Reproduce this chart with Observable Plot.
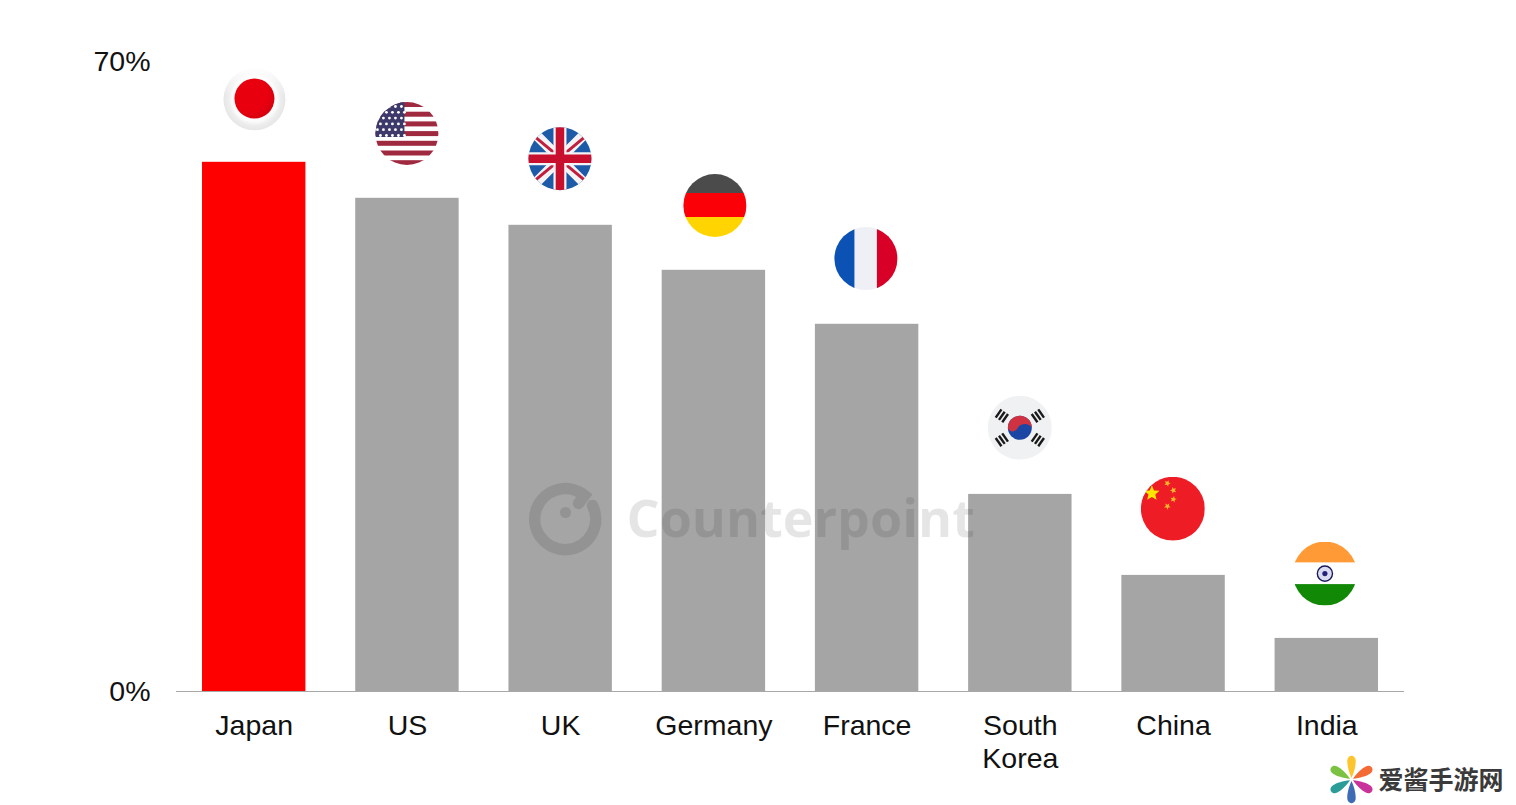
<!DOCTYPE html>
<html><head><meta charset="utf-8">
<script src="https://cdn.jsdelivr.net/npm/d3@7"></script>
<script src="https://cdn.jsdelivr.net/npm/@observablehq/plot@0.6"></script>
<style>html,body{margin:0;padding:0;background:#fff;overflow:hidden}svg{display:block}</style>
</head><body><div id="chart"></div>
<script>
const countries = ["Japan","US","UK","Germany","France","South\nKorea","China","India"];
const values = [58.8,54.8,51.8,46.8,40.8,21.9,12.9,5.9];
const flagLevels = [65.8,62,59.2,54,48.1,29.3,20.3,13.1];
const yTicks = [0,70];
const watermark = "Counterpoint";
const siteMark = "爱酱手游网";

const star=(cx,cy,r,rot=0)=>{let p=[];for(let i=0;i<10;i++){const a=-Math.PI/2+rot+i*Math.PI/5,q=i%2?r*.45:r;p.push((cx+q*Math.cos(a)).toFixed(2)+","+(cy+q*Math.sin(a)).toFixed(2));}return `<polygon points="${p.join(" ")}"`;};
const wrap=(inner,r=31.5)=>`<svg xmlns="http://www.w3.org/2000/svg" width="64" height="64" viewBox="-32 -32 64 64"><defs><clipPath id="c"><circle r="${r}"/></clipPath></defs><g clip-path="url(#c)">${inner}</g></svg>`;
function usFlag(){let s=`<rect x="-32" y="-32" width="64" height="64" fill="#fff"/>`;
  for(let i=0;i<7;i++) s+=`<rect x="-32" y="${-31.5+i*9.7}" width="64" height="5" fill="#9f2a40"/>`;
  s+=`<rect x="-32" y="-32" width="29.5" height="35.5" fill="#3d3a6b"/>`;
  for(let r=0;r<6;r++)for(let c=0;c<5;c++) s+=`<circle cx="${-29.5+c*6+(r%2?3:0)}" cy="${-27+r*5.8}" r="1.4" fill="#fff"/>`;
  return wrap(s);}
function ukFlag(){return wrap(`<rect x="-32" y="-32" width="64" height="64" fill="#1d5aa8"/>
<path d="M-32-32L32 32M32-32L-32 32" stroke="#f4f4f6" stroke-width="10"/>
<path d="M-30-26L-6-6M6 6L30 26M30-26L6-6M-6 6L-30 26" stroke="#c21f3e" stroke-width="3"/>
<path d="M0-32V32M-32 0H32" stroke="#f4f4f6" stroke-width="13"/>
<path d="M0-32V32M-32 0H32" stroke="#c8102e" stroke-width="8.5"/>`);}
function jpFlag(){return `<svg xmlns="http://www.w3.org/2000/svg" width="64" height="64" viewBox="-32 -32 64 64"><defs>
<radialGradient id="h"><stop offset="0.72" stop-color="#fbfbfb"/><stop offset="0.84" stop-color="#ededed"/><stop offset="1" stop-color="#e6e6e6"/></radialGradient>
<linearGradient id="f" x1="0" y1="0" x2="0" y2="1"><stop offset="0" stop-color="#fff"/><stop offset="0.45" stop-color="#fff" stop-opacity="0"/></linearGradient>
<radialGradient id="d" cx="0.4" cy="0.4" r="0.7"><stop offset="0.6" stop-color="#e8000f"/><stop offset="1" stop-color="#d0000f"/></radialGradient></defs>
<circle r="31" fill="url(#h)"/><circle r="31.5" fill="url(#f)"/><circle cx="0" cy="-0.7" r="20" fill="url(#d)"/></svg>`;}
function deFlag(){return wrap(`<rect x="-32" y="-32" width="64" height="19.5" fill="#4b4b4b"/><rect x="-32" y="-12.5" width="64" height="24" fill="#fb0006"/><rect x="-32" y="11.5" width="64" height="21" fill="#ffd400"/>`);}
function frFlag(){return wrap(`<rect x="-32" y="-32" width="64" height="64" fill="#eef0f5"/><rect x="-32" y="-32" width="20.5" height="64" fill="#0b52b4"/><rect x="11" y="-32" width="21" height="64" fill="#d80027"/>`);}
function krFlag(){const tri=(x,y,a)=>`<g transform="translate(${x} ${y}) rotate(${a})"><rect x="-5" y="-5.2" width="10" height="2.4"/><rect x="-5" y="-1.2" width="10" height="2.4"/><rect x="-5" y="2.8" width="10" height="2.4"/></g>`;
  return wrap(`<rect x="-32" y="-32" width="64" height="64" fill="#f0f1f2"/>
<g fill="#1a1a1a">${tri(-18,-12,-55)}${tri(18,-12,55)}${tri(-18,12,55)}${tri(18,12,-55)}</g>
<circle r="12" fill="#1c46a3"/><path d="M-12 0A12 12 0 0 1 12 0C10 5 5 5 2 0S-9-5-12 0Z" fill="#cf3241" transform="scale(-1 1)"/>`,32);}
function cnFlag(){return wrap(`<rect x="-32" y="-32" width="64" height="64" fill="#ee1c25"/>
${star(-21,-15.5,8)} fill="#ffe600"/>${star(-5.5,-25.5,3.4,.4)} fill="#f9b52c"/>${star(.5,-18.5,3.4,.9)} fill="#f9b52c"/>${star(.5,-9.5,3.4,.2)} fill="#f9b52c"/>${star(-5.5,-2.5,3.4,.6)} fill="#f9b52c"/>`,32);}
function inFlag(){return wrap(`<rect x="-32" y="-32" width="64" height="21" fill="#ff9a36"/><rect x="-32" y="-11" width="64" height="21.5" fill="#fff"/><rect x="-32" y="10.5" width="64" height="22" fill="#128807"/>
<circle r="7.6" fill="#dcdcf0" stroke="#1a1a5e" stroke-width="1.4"/><circle r="2.6" fill="#23237a"/>`,32);}
const uri=s=>"data:image/svg+xml;charset=utf-8,"+encodeURIComponent(s);
const flagArt=[jpFlag(),usFlag(),ukFlag(),deFlag(),frFlag(),krFlag(),cnFlag(),inFlag()].map(uri);
const flagNudge=[0.25,-0.5,-0.7,1,-1.2,-0.5,-0.7,-1.9];

const logoArt=uri(`<svg xmlns="http://www.w3.org/2000/svg" width="92" height="92" viewBox="-46 -46 92 92" fill="none" stroke="#000">
<path d="M12-17L18-25A30.500 30.500 0 1 0 26-15" stroke-width="11.500" stroke-linecap="round"/><circle cx="-1" cy="-8" r="5.5" fill="#000" stroke="none"/></svg>`);
const pinColors=["#fcc52e","#f46a35","#c8329a","#3d6cb5","#2a9d98","#7cc242"];
const pinArt=uri(`<svg xmlns="http://www.w3.org/2000/svg" width="52" height="52" viewBox="-26 -26 52 52">${pinColors.map((c,i)=>`<path d="M0-1.5C-3-8-4.2-14-4-18A4 4.600 0 0 1 4-18C4.200-14 3-8 0-1.500Z" transform="rotate(${i*60}) scale(1.05)" fill="${c}"/>`).join("")}</svg>`);

const rows=countries.map((c,i)=>({c,v:values[i],f:flagLevels[i],src:flagArt[i],i}));
const corner={frameAnchor:"top-left"};

const plot=Plot.plot({
  width:1516,height:805,marginLeft:176,marginRight:112,marginTop:61,marginBottom:114,
  style:{fontFamily:"'Liberation Sans',Arial,sans-serif",fontSize:"28px",background:"#fff",color:"#111"},
  x:{domain:countries,paddingInner:0.325,paddingOuter:0.1696,round:false,axis:null,label:null},
  y:{domain:[0,70],axis:null,label:null},
  marks:[
    Plot.barY(rows,{x:"c",y:"v",fill:d=>d.i===0?"#fe0000":"#a5a5a5"}),
    Plot.ruleY([0],{stroke:"#a8a8a8",strokeWidth:1}),
    Plot.axisX(countries,{anchor:"bottom",tickSize:0,tickPadding:19,label:null,lineHeight:1.19,fill:"#111",fontSize:28.5}),
    Plot.axisY(yTicks,{anchor:"left",tickSize:0,tickPadding:26,label:null,tickFormat:d=>d+"%",fill:"#111",fontSize:28.5}),
    ...rows.map((r,i)=>Plot.image([r],{x:"c",y:"f",src:"src",width:64,height:64,dx:flagNudge[i]})),
    Plot.image([logoArt],{...corner,src:d=>d,width:92,height:92,dx:390,dy:459,opacity:0.1}),
    Plot.text([watermark],{...corner,text:d=>d,textAnchor:"start",lineAnchor:"middle",dx:450,dy:459,fontFamily:"'Open Sans',sans-serif",fontWeight:700,fontSize:52,fill:"#000",fillOpacity:0.1}),
    Plot.image([pinArt],{...corner,src:d=>d,width:52,height:52,dx:1175,dy:718}),
    Plot.text([siteMark],{...corner,text:d=>d,textAnchor:"start",lineAnchor:"middle",dx:1202,dy:719,fontFamily:"'Noto Sans CJK SC',sans-serif",fontWeight:700,fontSize:25,fill:"#3a3a3a"})
  ]
});
document.getElementById("chart").append(plot);
</script></body></html>
